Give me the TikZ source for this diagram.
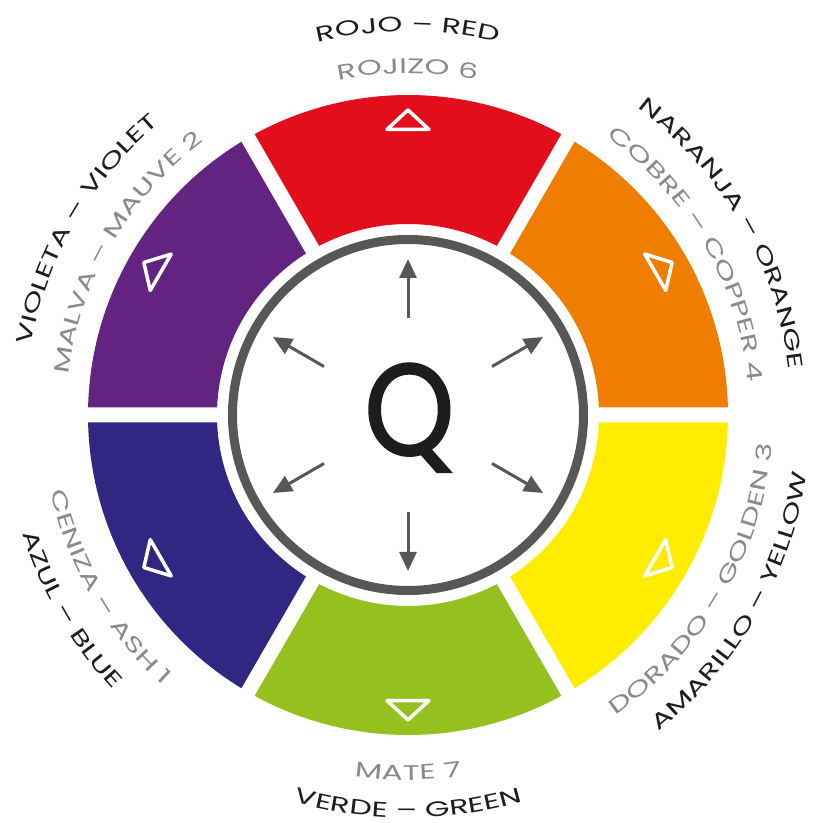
\documentclass[tikz,border=0pt]{standalone}
\usepackage{fontspec}
\setmainfont{Poppins}
\newfontfamily\wheelface[FakeStretch=1.5]{Poppins}
\newfontfamily\qface[FakeStretch=0.88,FakeBold=1.6]{Poppins}
\usepackage{xcolor}
\usepackage{tikz}
\usetikzlibrary{arrows.meta,decorations.text}
\definecolor{Wheel-red}{RGB}{226, 14, 27}
\definecolor{Wheel-orange}{RGB}{239,125,  0}
\definecolor{Wheel-yellow}{RGB}{255,236,  0}
\definecolor{Wheel-green}{RGB}{149,193, 31}
\definecolor{Wheel-blue}{RGB}{ 49, 39,131}
\definecolor{Wheel-violet}{RGB}{ 98, 36,128}
\definecolor{Wheel-gray}{RGB}{ 87, 87, 86}
\definecolor{Wheel-ink}{RGB}{ 29, 29, 27}
\definecolor{Wheel-shade}{RGB}{138,138,138}
\newcommand{\wheelfont}{\wheelface\fontsize{12}{14}\selectfont}
\tikzstyle{gap}=[draw=white,line width=0.3cm]
\tikzstyle{tri}=[draw=white,line width=0.07cm,line join=round]
\tikzstyle{ray}=[draw=Wheel-gray,line width=0.06cm,-{Triangle[length=0.38cm,width=0.34cm]}]
\tikzstyle{ring}=[draw=Wheel-gray,line width=0.18cm]
\tikzstyle{rimtext}=[decorate,decoration={text along path,text align=center}]

\begin{document}
\begin{tikzpicture}
\useasboundingbox (-8.16,-8.16) rectangle (8.12,8.30);

% Segments
\fill[Wheel-red]    (60:3.82)   arc[start angle=60,  end angle=120, radius=3.82] -- (120:6.4) arc[start angle=120, end angle=60,  radius=6.4] -- cycle;
\fill[Wheel-orange] (0:3.82)    arc[start angle=0,   end angle=60,  radius=3.82] -- (60:6.4)  arc[start angle=60,  end angle=0,   radius=6.4] -- cycle;
\fill[Wheel-yellow] (-60:3.82)  arc[start angle=-60, end angle=0,   radius=3.82] -- (0:6.4)   arc[start angle=0,   end angle=-60, radius=6.4] -- cycle;
\fill[Wheel-green]  (-120:3.82) arc[start angle=-120,end angle=-60, radius=3.82] -- (-60:6.4) arc[start angle=-60, end angle=-120,radius=6.4] -- cycle;
\fill[Wheel-blue]   (180:3.82)  arc[start angle=180, end angle=240, radius=3.82] -- (240:6.4) arc[start angle=240, end angle=180, radius=6.4] -- cycle;
\fill[Wheel-violet] (120:3.82)  arc[start angle=120, end angle=180, radius=3.82] -- (180:6.4) arc[start angle=180, end angle=120, radius=6.4] -- cycle;
\draw[gap] (0:3.7) -- (0:6.6)   (60:3.7) -- (60:6.6)   (120:3.7) -- (120:6.6)
           (180:3.7) -- (180:6.6) (240:3.7) -- (240:6.6) (300:3.7) -- (300:6.6);

% Triangles
\draw[tri]               (0,6.1) -- (-0.42,5.71) -- (0.42,5.71) -- cycle;
\draw[tri,rotate=-60]    (0,6.1) -- (-0.42,5.71) -- (0.42,5.71) -- cycle;
\draw[tri,rotate=-120]   (0,6.1) -- (-0.42,5.71) -- (0.42,5.71) -- cycle;
\draw[tri,rotate=180]    (0,6.1) -- (-0.42,5.71) -- (0.42,5.71) -- cycle;
\draw[tri,rotate=120]    (0,6.1) -- (-0.42,5.71) -- (0.42,5.71) -- cycle;
\draw[tri,rotate=60]     (0,6.1) -- (-0.42,5.71) -- (0.42,5.71) -- cycle;

% Centre
\draw[ring] (0,0) circle[radius=3.51];
\node[anchor=base,text=Wheel-ink,font=\qface\fontsize{74}{80}\selectfont] (q) at (0.03,-0.8) {Q};

\coordinate (red in)    at (90:1.94);   \coordinate (red out)    at (90:3.12);
\coordinate (orange in) at (30:1.94);   \coordinate (orange out) at (30:3.12);
\coordinate (yellow in) at (-30:1.94);  \coordinate (yellow out) at (-30:3.12);
\coordinate (green in)  at (-90:1.94);  \coordinate (green out)  at (-90:3.12);
\coordinate (blue in)   at (-150:1.94); \coordinate (blue out)   at (-150:3.12);
\coordinate (violet in) at (150:1.94);  \coordinate (violet out) at (150:3.12);

\draw[ray] (red in)    -- (red out);
\draw[ray] (orange in) -- (orange out);
\draw[ray] (yellow in) -- (yellow out);
\draw[ray] (green in)  -- (green out);
\draw[ray] (blue in)   -- (blue out);
\draw[ray] (violet in) -- (violet out);

% Labels
\path[rimtext,decoration={text={|\color{Wheel-ink}\wheelfont|ROJO – RED}}]           (130:7.67) arc[start angle=130, end angle=50,  radius=7.67];
\path[rimtext,decoration={text={|\color{Wheel-shade}\wheelfont|ROJIZO 6}}]           (130:6.83) arc[start angle=130, end angle=50,  radius=6.83];
\path[rimtext,decoration={text={|\color{Wheel-ink}\wheelfont|NARANJA – ORANGE}}]     (75:7.67)  arc[start angle=75,  end angle=-15, radius=7.67];
\path[rimtext,decoration={text={|\color{Wheel-shade}\wheelfont|COBRE – COPPER 4}}]   (75:6.83)  arc[start angle=75,  end angle=-15, radius=6.83];
\path[rimtext,decoration={text={|\color{Wheel-ink}\wheelfont|VIOLETA – VIOLET}}]     (195:7.67) arc[start angle=195, end angle=105, radius=7.67];
\path[rimtext,decoration={text={|\color{Wheel-shade}\wheelfont|MALVA – MAUVE 2}}]    (195:6.83) arc[start angle=195, end angle=105, radius=6.83];
\path[rimtext,decoration={text={|\color{Wheel-ink}\wheelfont|AMARILLO – YELLOW}}]    (-75:8.06) arc[start angle=-75, end angle=15,  radius=8.06];
\path[rimtext,decoration={text={|\color{Wheel-shade}\wheelfont|DORADO – GOLDEN 3}}]  (-75:7.3)  arc[start angle=-75, end angle=15,  radius=7.3];
\path[rimtext,decoration={text={|\color{Wheel-ink}\wheelfont|VERDE – GREEN}}]        (-135:8.06) arc[start angle=-135,end angle=-45, radius=8.06];
\path[rimtext,decoration={text={|\color{Wheel-shade}\wheelfont|MATE 7}}]             (-135:7.3) arc[start angle=-135,end angle=-45, radius=7.3];
\path[rimtext,decoration={text={|\color{Wheel-ink}\wheelfont|AZUL – BLUE}}]          (-195:8.06) arc[start angle=-195,end angle=-105,radius=8.06];
\path[rimtext,decoration={text={|\color{Wheel-shade}\wheelfont|CENIZA – ASH 1}}]     (-195:7.3) arc[start angle=-195,end angle=-105,radius=7.3];

\end{tikzpicture}
\end{document}
